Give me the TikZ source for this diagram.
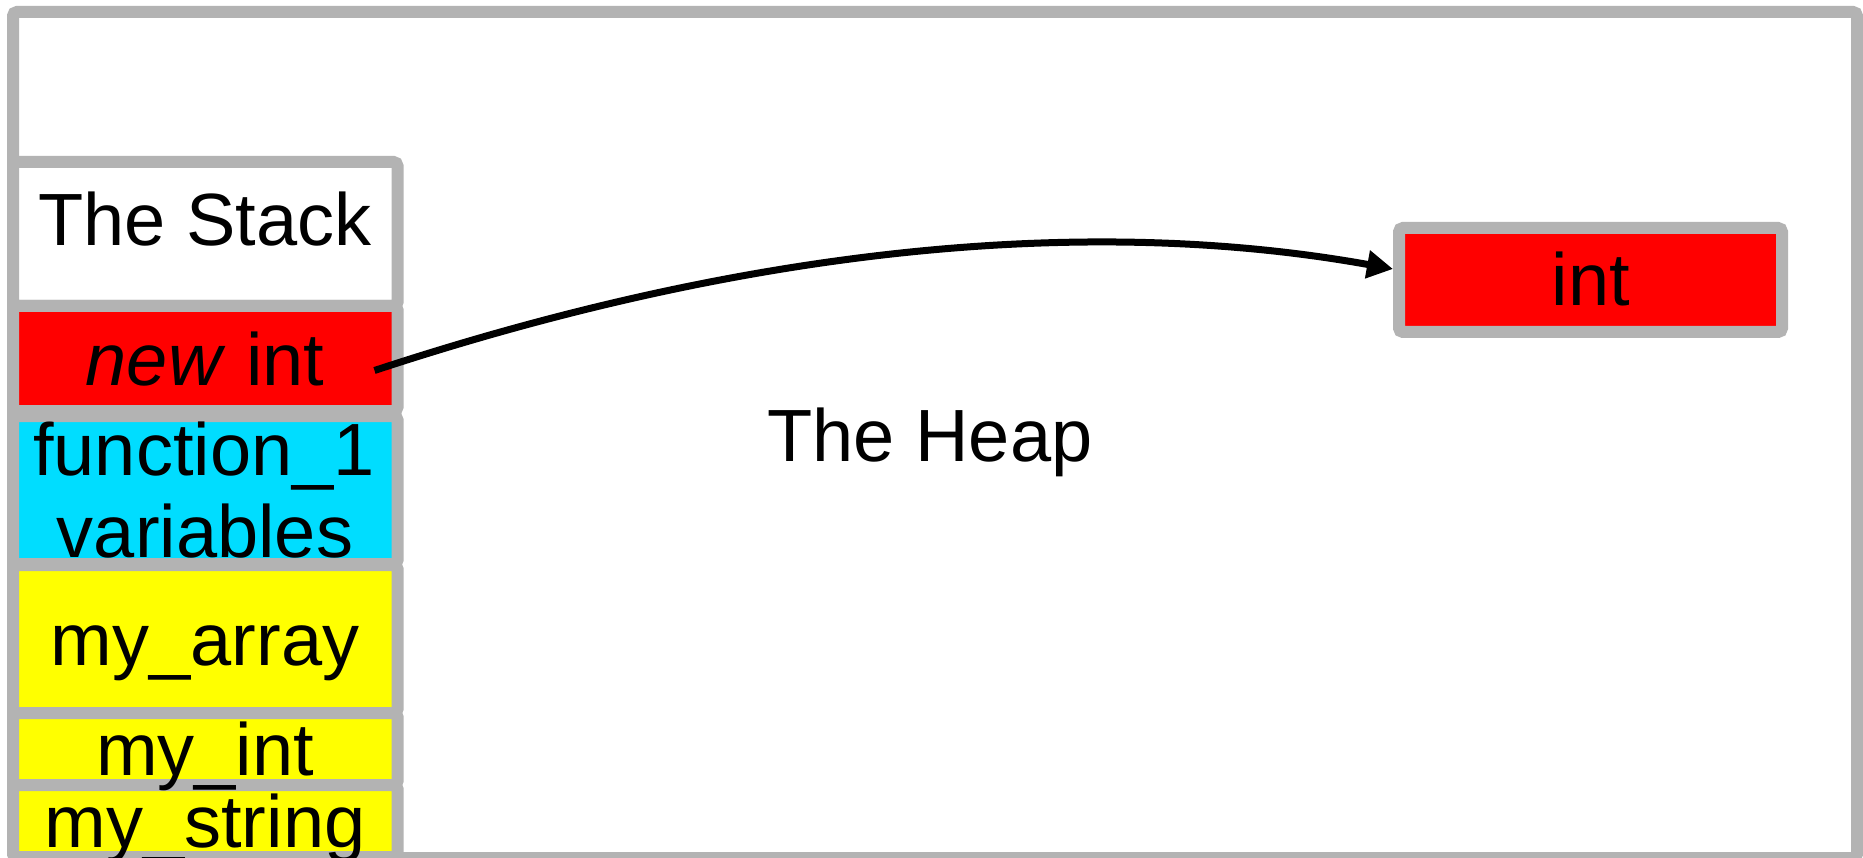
\documentclass[tikz,border=0pt]{standalone}
\usepackage{fontspec}
\setmainfont{Liberation Sans}
\usetikzlibrary{arrows.meta}
\definecolor{bordergrey}{RGB}{179,179,179}
\definecolor{cellcyan}{RGB}{0,221,255}
\definecolor{cellred}{RGB}{255,0,0}
\definecolor{cellyellow}{RGB}{255,255,0}
\tikzset{
  cell/.style={draw=bordergrey, line width=12pt, rounded corners=4pt, inner sep=0pt, outer sep=0pt, minimum width=384.5pt},
  label/.style={anchor=base, inner sep=0pt, font=\fontsize{74pt}{82pt}\selectfont},
  pointer/.style={draw=black, line width=7pt, -{Triangle[length=26pt,width=27pt]}}
}
\begin{document}
\begin{tikzpicture}[x=1pt,y=-1pt]
\useasboundingbox (0,0) rectangle (1863,858);
% outer frame
\node[draw=bordergrey, line width=12pt, rounded corners=4pt, inner sep=0pt, outer sep=0pt,
      minimum width=1844pt, minimum height=846pt, fill=white] (frame) at (935,435) {};
% stack cells
\node[cell, fill=white, minimum height=144pt] (stacktitle) at (205.25,234) {};
\node[cell, fill=cellred, minimum height=105pt] (newint) at (205.25,358.5) {};
\node[cell, fill=cellcyan, minimum height=148pt] (func) at (205.25,490) {};
\node[cell, fill=cellyellow, minimum height=148pt] (myarray) at (205.25,639) {};
\node[cell, fill=cellyellow, minimum height=72pt] (myint) at (205.25,749) {};
\node[cell, fill=cellyellow, minimum height=72pt] (mystring) at (205.25,821) {};
% heap cell
\node[draw=bordergrey, line width=12pt, rounded corners=4pt, inner sep=0pt,
      fill=cellred, minimum width=383pt, minimum height=104pt] (heapint) at (1590.5,280) {};
% texts
\node[label] (tstack) at (205,246) {The Stack};
\node[label] (tnewint) at (205,385) {\textit{new} int};
\node[label] (tfunc) at (204,475) {function\_1};
\node[label] (tvars) at (205,557) {variables};
\node[label] (tarray) at (205,665) {my\_array};
\node[label] (tmyint) at (205,775) {my\_int};
\node[label] (tmystring) at (205,847) {my\_string};
\node[label] (theap) at (930,461) {The Heap};
\node[label] (tint) at (1591,306) {int};
% pointer
\draw[pointer] ([shift={(-23,12)}]newint.east) .. controls +(373,-123) and +(-306,-55) .. ([yshift=11pt]heapint.west);
\end{tikzpicture}
\end{document}
